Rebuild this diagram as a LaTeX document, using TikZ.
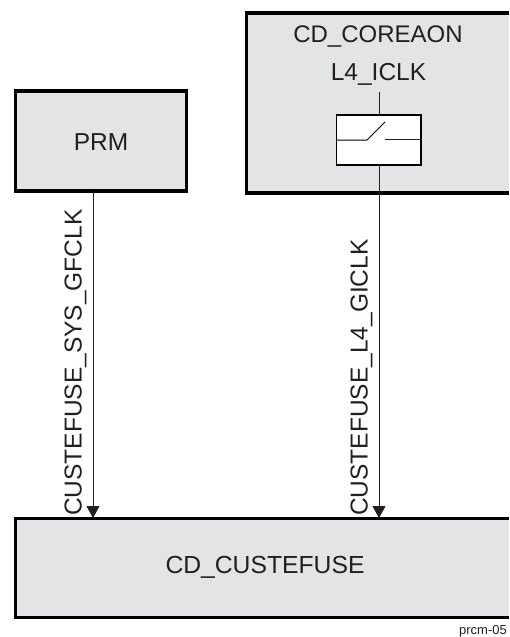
\documentclass[tikz,border=0pt]{standalone}
\usepackage{fontspec}
\setmainfont{Liberation Sans}
\usetikzlibrary{arrows.meta}
\definecolor{boxgray}{RGB}{227,228,230}
\definecolor{ink}{RGB}{35,31,32}
\tikzset{
  block/.style={fill=boxgray,draw=black,line width=3.5pt,inner sep=0pt,outer sep=0pt,anchor=north west},
  openblock/.style={fill=boxgray,inner sep=0pt,outer sep=0pt,anchor=north west},
  heavy/.style={draw=black,line width=3.5pt,line join=miter},
  label/.style={text=ink,font=\fontsize{24.5pt}{28pt}\selectfont,inner sep=0pt},
  sig/.style={draw=ink,line width=1pt},
  clk/.style={sig,-{Triangle[length=12pt,width=13pt]}},
  sw/.style={fill=white,draw=black,line width=1.6pt,inner sep=0pt,outer sep=0pt,anchor=north west},
}
\begin{document}
\begin{tikzpicture}[x=1pt,y=-1pt]
\useasboundingbox (0,0) rectangle (509,637);
% blocks
\node[block,minimum width=171pt,minimum height=100pt] (prm) at (15.5,91) {};
\node[label] at ([yshift=-1.5pt]prm.center) {PRM};
\node[openblock,minimum width=262.5pt,minimum height=180pt] (core) at (246.5,13) {};
\draw[heavy] (core.north east) -- (core.north west) -- (core.south west) -- (core.south east);
\node[openblock,minimum width=493.5pt,minimum height=99pt] (fuse) at (15.5,518.5) {};
\draw[heavy] (fuse.north east) -- (fuse.north west) -- (fuse.south west) -- (fuse.south east);
% labels
\node[label,font=\fontsize{24pt}{28pt}\selectfont] (corelabel) at (378,37) {CD\_COREAON};
\node[label] (iclk) at (378.5,74) {L4\_ICLK};
\node[label,font=\fontsize{24.7pt}{28pt}\selectfont] (fuselabel) at (265,567) {CD\_CUSTEFUSE};
% switch
\node[sw,minimum width=84.5pt,minimum height=50pt] (switch) at (336.5,115) {};
\coordinate (iclkend) at (379,92);
\coordinate (swl) at (367,140);
\coordinate (swt) at (385,122);
\coordinate (swr) at (385,139);
\draw[sig] (iclkend) -- (iclkend |- switch.north);
\draw[draw=black,line width=1pt] (switch.west |- swl) -- (swl) -- (swt);
\draw[sig] (swr) -- (swr -| switch.east);
% connectors
\coordinate (a1) at (93,518);
\coordinate (a2) at (379,518);
\draw[clk] (a1 |- prm.south) -- (a1);
\draw[clk] (a2 |- switch.south) -- (a2);
% rotated labels
\node[label,rotate=90,anchor=west] (l1) at (75.5,516) {CUSTEFUSE\_SYS\_GFCLK};
\node[label,rotate=90,anchor=west] (l2) at (361.5,516) {CUSTEFUSE\_L4\_GICLK};
\node[text=ink,font=\fontsize{13pt}{16pt}\selectfont,inner sep=0pt,anchor=east] (fig) at (507,631) {prcm-05};
\end{tikzpicture}
\end{document}
